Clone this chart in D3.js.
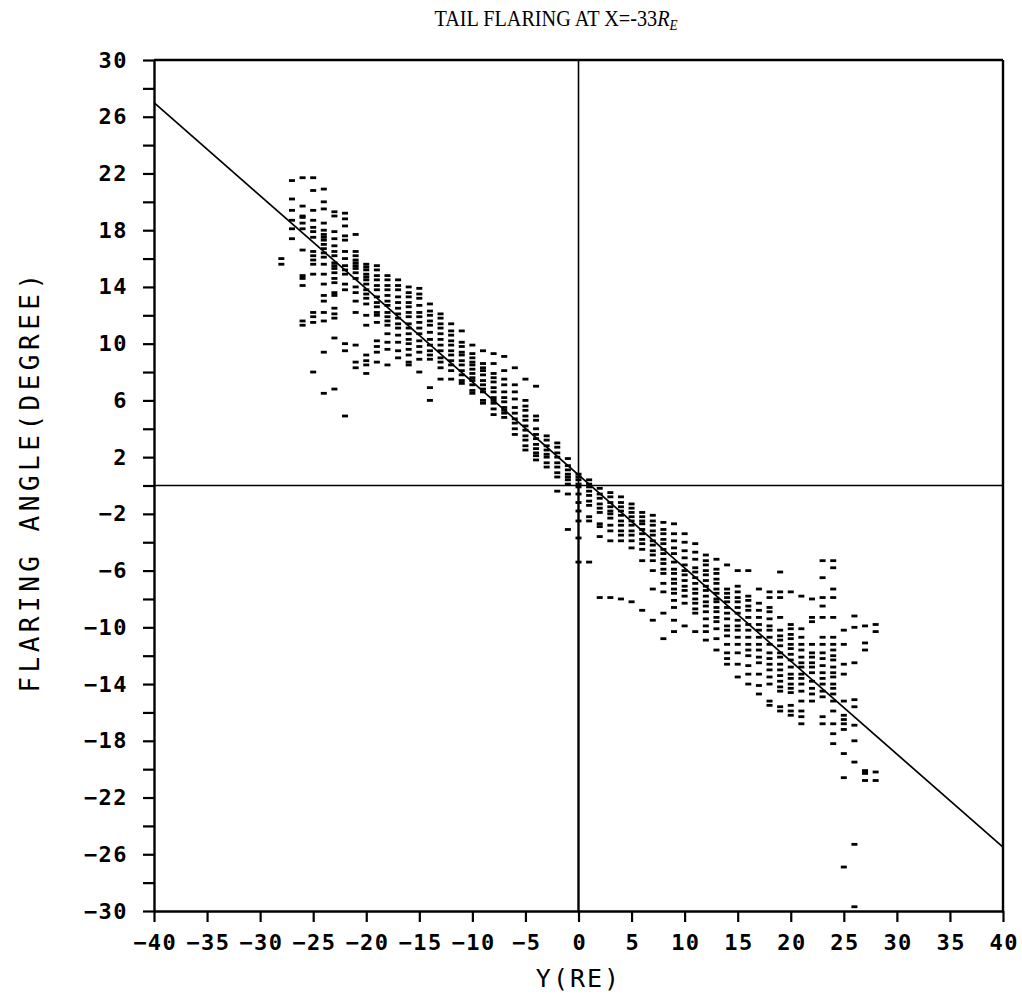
<!DOCTYPE html>
<html>
<head>
<meta charset="utf-8">
<script src="https://cdn.jsdelivr.net/npm/d3@7"></script>
<style>
  body { margin: 0; background: #fff; }
  svg { display: block; }
</style>
</head>
<body>
<div id="chart"></div>
<script>
// Tail flaring angle vs Y at X=-33 RE — dash scatter, one column per integer Y
const columnY = [-28, -27, -26, -25, -24, -23, -22, -21, -20, -19, -18, -17, -16, -15, -14, -13, -12, -11, -10, -9, -8, -7, -6, -5, -4, -3, -2, -1,
  0, 1, 2, 3, 4, 5, 6, 7, 8, 9, 10, 11, 12, 13, 14, 15, 16, 17, 18, 19, 20, 21, 22, 23, 24, 25, 26, 27, 28];

const columnAngles = [
  [16.0, 15.6],
  [21.5, 20.2, 19.4, 18.7, 18.1, 17.4],
  [21.7, 19.7, 19.0, 18.9, 18.5, 18.1, 16.6, 14.8, 14.6, 14.1, 11.6, 11.3],
  [21.7, 20.8, 19.4, 18.7, 18.2, 17.9, 17.5, 16.5, 16.2, 15.9, 15.6, 14.9, 12.2, 11.9, 11.5, 8.0],
  [20.9, 20.0, 19.5, 18.5, 18.0, 17.7, 17.5, 17.3, 17.0, 16.7, 16.4, 16.1, 15.6, 14.9, 14.2, 13.4, 13.0, 12.2, 11.6, 9.4, 6.5],
  [19.3, 19.0, 17.9, 17.4, 16.9, 16.5, 16.2, 15.7, 15.5, 15.3, 15.0, 14.6, 14.3, 13.6, 13.4, 12.5, 12.1, 11.8, 10.4, 6.8],
  [19.2, 18.8, 18.3, 17.6, 17.3, 16.5, 16.0, 15.5, 15.2, 14.9, 14.2, 13.8, 10.0, 9.5, 4.9],
  [17.7, 16.5, 16.2, 15.9, 15.7, 15.5, 15.3, 15.0, 14.6, 14.0, 13.6, 13.0, 12.2, 9.9, 8.7, 8.3],
  [15.6, 15.4, 15.2, 14.9, 14.7, 14.5, 14.2, 13.8, 13.5, 13.2, 12.8, 12.0, 11.3, 9.2, 8.8, 8.5, 7.9],
  [15.5, 15.2, 14.8, 14.5, 14.1, 13.8, 13.3, 12.9, 12.6, 12.2, 12.0, 11.5, 10.2, 9.8, 9.4, 8.7],
  [14.8, 14.5, 14.1, 13.8, 13.4, 13.0, 12.7, 12.2, 11.9, 11.6, 11.3, 10.7, 10.1, 9.6, 8.5],
  [14.5, 14.1, 13.8, 13.3, 12.9, 12.5, 12.1, 11.8, 11.4, 11.1, 10.6, 10.1, 9.5, 9.0],
  [14.0, 13.6, 13.3, 12.9, 12.6, 12.2, 11.9, 11.4, 11.1, 10.7, 10.3, 10.0, 9.6, 9.2, 8.7, 8.5],
  [13.9, 13.5, 13.2, 12.7, 12.2, 11.9, 11.5, 11.1, 10.7, 10.2, 9.8, 9.4, 8.9, 8.0],
  [12.8, 12.3, 12.0, 11.6, 11.3, 10.8, 10.3, 9.9, 9.5, 9.2, 8.9, 6.9, 6.0],
  [12.1, 11.8, 11.4, 11.1, 10.7, 10.3, 9.9, 9.5, 9.0, 8.7, 8.3, 7.5],
  [11.4, 10.9, 10.6, 10.2, 9.9, 9.5, 9.2, 8.8, 8.5, 8.1, 7.5],
  [10.9, 10.1, 9.8, 9.4, 9.2, 8.8, 8.5, 8.1, 7.8, 7.4, 7.2],
  [9.9, 9.3, 9.0, 8.7, 8.5, 8.2, 7.9, 7.6, 7.4, 7.1, 6.7, 6.5],
  [9.5, 8.6, 8.3, 8.1, 7.8, 7.4, 7.1, 6.8, 6.6, 6.0, 5.8],
  [9.3, 8.6, 7.9, 7.6, 7.3, 6.9, 6.6, 6.2, 6.0, 5.8, 5.4, 5.0],
  [9.1, 8.1, 7.5, 7.1, 6.6, 6.2, 5.9, 5.5, 5.3, 5.1, 4.8],
  [8.3, 7.1, 6.6, 6.1, 5.5, 5.1, 4.7, 4.4, 4.0, 3.6],
  [7.5, 6.0, 5.6, 5.3, 4.9, 4.6, 4.2, 3.9, 3.5, 3.2, 2.8, 2.5],
  [7.0, 4.9, 4.6, 4.0, 3.6, 3.3, 2.9, 2.6, 2.3, 2.1, 1.8],
  [3.5, 3.2, 2.8, 2.5, 2.2, 2.0, 1.6, 1.3],
  [3.0, 2.7, 2.3, 2.0, 1.6, 1.3, 0.9, 0.6, -0.4],
  [1.9, 1.4, 1.1, 0.8, 0.6, 0.4, 0.1, -0.6, -3.1],
  [0.8, 0.6, 0.4, 0.1, -0.1, -0.6, -1.2, -1.8, -2.5, -3.7, -5.4],
  [0.4, 0.1, -0.1, -0.4, -0.7, -1.1, -1.4, -2.2, -2.5, -5.4],
  [-0.2, -0.6, -0.9, -1.3, -1.6, -1.9, -2.7, -2.9, -3.6, -7.9],
  [-0.5, -0.8, -1.2, -1.5, -1.8, -2.0, -2.3, -2.8, -3.2, -3.9, -7.9],
  [-0.8, -1.2, -1.5, -1.8, -2.1, -2.5, -2.8, -3.2, -3.5, -3.9, -8.0],
  [-1.3, -1.6, -1.9, -2.2, -2.5, -2.8, -3.2, -3.5, -3.9, -4.4, -8.2],
  [-1.9, -2.2, -2.5, -2.7, -3.1, -3.4, -3.8, -4.1, -4.5, -5.3, -8.8],
  [-2.1, -2.5, -2.8, -3.2, -3.5, -3.9, -4.2, -4.6, -4.9, -5.3, -6.0, -7.3, -9.5],
  [-2.6, -3.1, -3.4, -3.8, -4.1, -4.5, -4.8, -5.2, -5.5, -5.9, -6.2, -6.9, -7.5, -9.0, -10.8],
  [-2.7, -3.4, -3.9, -4.4, -4.8, -5.4, -5.9, -6.2, -6.6, -6.9, -7.3, -7.6, -8.1, -8.6, -9.5, -10.3],
  [-3.4, -4.0, -4.6, -5.1, -5.6, -6.0, -6.3, -6.7, -7.1, -7.4, -7.8, -8.3, -9.9],
  [-4.1, -4.7, -5.2, -5.8, -6.1, -6.5, -6.9, -7.3, -7.6, -8.0, -8.3, -8.7, -9.0, -10.3],
  [-4.9, -5.3, -5.6, -6.0, -6.3, -6.7, -7.1, -7.4, -7.8, -8.2, -8.5, -8.9, -9.4, -9.9, -10.3, -10.9],
  [-5.2, -5.9, -6.2, -6.6, -6.9, -7.3, -7.6, -8.0, -8.2, -8.6, -8.9, -9.3, -9.6, -10.1, -10.8, -11.6],
  [-5.6, -7.3, -7.6, -7.9, -8.2, -8.6, -9.0, -9.4, -9.9, -10.2, -10.6, -11.2, -11.8, -12.2, -12.6],
  [-6.0, -7.1, -7.5, -7.9, -8.2, -8.6, -9.0, -9.5, -9.9, -10.2, -10.7, -11.2, -11.8, -12.6, -13.5],
  [-6.0, -7.8, -8.1, -8.5, -8.8, -9.3, -9.8, -10.2, -10.7, -11.2, -11.6, -12.0, -12.7, -13.3, -14.0],
  [-7.3, -8.3, -8.8, -9.3, -9.8, -10.2, -10.7, -11.2, -11.6, -12.1, -12.5, -13.3, -14.1, -14.7],
  [-7.5, -7.9, -8.6, -8.9, -9.4, -9.9, -10.2, -10.7, -11.2, -11.8, -12.2, -12.6, -13.0, -13.5, -14.0, -15.2, -15.5],
  [-6.1, -7.5, -7.9, -9.3, -10.2, -10.6, -10.9, -11.3, -11.8, -12.1, -12.6, -13.0, -13.4, -13.8, -14.2, -14.5, -15.6, -15.9],
  [-7.5, -9.8, -10.1, -10.5, -10.8, -11.2, -11.5, -11.9, -12.3, -12.8, -13.3, -13.6, -14.0, -14.3, -14.6, -15.5, -15.9, -16.2],
  [-7.8, -10.1, -10.7, -11.2, -11.6, -12.1, -12.5, -12.8, -13.3, -13.6, -14.0, -14.5, -15.2, -15.9, -16.3, -16.8],
  [-8.0, -9.3, -9.6, -11.2, -11.8, -12.1, -12.5, -12.8, -13.2, -13.8, -14.3, -14.7, -15.2],
  [-5.3, -6.5, -7.9, -8.5, -9.3, -10.7, -11.2, -11.8, -12.2, -12.7, -13.2, -13.6, -14.0, -14.5, -14.9, -16.3, -16.8],
  [-5.3, -5.8, -7.3, -7.9, -9.3, -10.7, -11.2, -11.6, -12.0, -12.3, -12.8, -13.2, -13.5, -14.0, -14.3, -14.7, -15.2, -15.9, -16.8, -17.5, -18.2],
  [-10.2, -11.2, -12.6, -13.3, -15.2, -16.2, -16.5, -16.8, -17.2, -18.9, -20.6, -26.9],
  [-9.2, -10.0, -12.5, -15.1, -15.6, -16.9, -18.0, -19.5, -25.3, -29.7],
  [-9.9, -11.1, -11.6, -20.1, -20.3, -20.8],
  [-9.8, -10.3, -20.2, -20.8]
];

// least-squares fit line drawn across the panel
const fitY = [-40, 40];
const fitAngle = [27.0, -25.5];

const xTicks = [-40, -35, -30, -25, -20, -15, -10, -5, 0, 5, 10, 15, 20, 25, 30, 35, 40];
const yTicks = [30, 28, 26, 24, 22, 20, 18, 16, 14, 12, 10, 8, 6, 4, 2, 0, -2, -4, -6, -8, -10, -12, -14, -16, -18, -20, -22, -24, -26, -28, -30];
const yTickLabels = [30, 26, 22, 18, 14, 10, 6, 2, -2, -6, -10, -14, -18, -22, -26, -30];

(function () {
  const W = 1022, H = 996;
  const margin = { top: 60, right: 19, bottom: 85, left: 154 };

  const svg = d3.select("#chart").append("svg")
    .attr("width", W).attr("height", H);

  const x = d3.scaleLinear().domain([-40, 40]).range([margin.left, W - margin.right]);
  const y = d3.scaleLinear().domain([30, -30]).range([margin.top, H - margin.bottom]);

  const mono = "'DejaVu Sans Mono', 'Liberation Mono', monospace";
  const fmt = d => String(d).replace("-", "\u2212");

  // frame: top and right edges
  svg.append("line")
    .attr("x1", x(-40)).attr("x2", x(40)).attr("y1", y(30)).attr("y2", y(30))
    .attr("stroke", "#000").attr("stroke-width", 2.4);
  svg.append("line")
    .attr("x1", x(40)).attr("x2", x(40)).attr("y1", y(30)).attr("y2", y(-30))
    .attr("stroke", "#000").attr("stroke-width", 2.4);

  // zero lines
  svg.append("line")
    .attr("x1", x(-40)).attr("x2", x(40)).attr("y1", y(0)).attr("y2", y(0))
    .attr("stroke", "#000").attr("stroke-width", 1.3);
  svg.append("line")
    .attr("x1", x(0)).attr("x2", x(0)).attr("y1", y(30)).attr("y2", y(0))
    .attr("stroke", "#000").attr("stroke-width", 1.6);
  svg.append("line")
    .attr("x1", x(0)).attr("x2", x(0)).attr("y1", y(0)).attr("y2", y(-30))
    .attr("stroke", "#000").attr("stroke-width", 2.4);

  // dash scatter
  const pts = [];
  columnY.forEach((cy, i) => columnAngles[i].forEach(a => pts.push([cy, a])));
  svg.append("g").selectAll("rect")
    .data(pts)
    .join("rect")
    .attr("x", d => x(d[0]) - 3)
    .attr("y", d => y(d[1]) - 1.4)
    .attr("width", 6)
    .attr("height", 2.8)
    .attr("fill", "#000");

  // fit line
  svg.append("line")
    .attr("x1", x(fitY[0])).attr("y1", y(fitAngle[0]))
    .attr("x2", x(fitY[1])).attr("y2", y(fitAngle[1]))
    .attr("stroke", "#000").attr("stroke-width", 1.7);

  // axes
  const yAxis = svg.append("g")
    .attr("transform", `translate(${x(-40)},0)`)
    .call(d3.axisLeft(y).tickValues(yTicks).tickSize(11).tickSizeOuter(0).tickPadding(15)
      .tickFormat(d => yTickLabels.includes(d) ? fmt(d) : ""));

  const xAxis = svg.append("g")
    .attr("transform", `translate(0,${y(-30)})`)
    .call(d3.axisBottom(x).tickValues(xTicks).tickSize(11).tickSizeOuter(0).tickPadding(12)
      .tickFormat(fmt));

  [yAxis, xAxis].forEach(g => {
    g.select(".domain").attr("stroke", "#000").attr("stroke-width", 2.4);
    g.selectAll(".tick line").attr("stroke", "#000").attr("stroke-width", 2.2);
    g.selectAll(".tick text")
      .attr("fill", "#000")
      .style("font-family", mono)
      .style("font-size", "22px")
      .style("letter-spacing", "1.5px")
      .style("font-weight", "bold");
  });
  xAxis.selectAll(".tick text").attr("dx", "0.75px");

  // title
  const title = svg.append("text")
    .attr("transform", "translate(556,26) scale(0.88,1)")
    .attr("text-anchor", "middle")
    .style("font-family", "'Liberation Serif', 'Times New Roman', serif")
    .style("font-size", "23px")
    .attr("fill", "#000");
  title.append("tspan").text("TAIL FLARING AT X=-33");
  title.append("tspan").style("font-style", "italic").text("R");
  title.append("tspan").style("font-style", "italic").style("font-size", "15px")
    .attr("dy", 4).text("E");

  // axis titles
  svg.append("text")
    .attr("x", x(0)).attr("y", 987)
    .attr("text-anchor", "middle")
    .style("font-family", mono).style("font-size", "25px").style("letter-spacing", "2px")
    .attr("fill", "#000")
    .text("Y(RE)");

  svg.append("text")
    .attr("transform", "translate(39,481) rotate(-90)")
    .attr("text-anchor", "middle")
    .style("font-family", mono).style("font-size", "26px").style("letter-spacing", "4.5px")
    .attr("fill", "#000")
    .text("FLARING ANGLE(DEGREE)");
})();
</script>
</body>
</html>
